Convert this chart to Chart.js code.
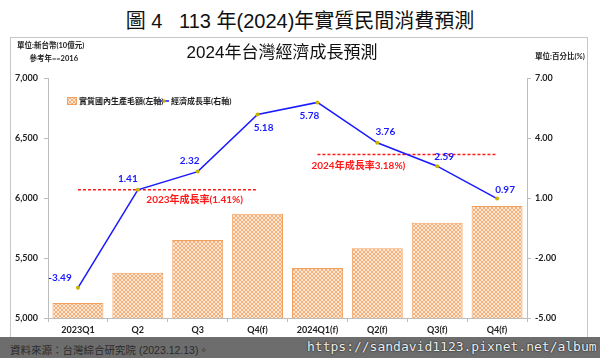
<!DOCTYPE html>
<html>
<head>
<meta charset="utf-8">
<script src="https://cdn.jsdelivr.net/npm/chart.js@4"></script>
<style>
  html, body { margin: 0; padding: 0; background: #fff; }
  #wrap { position: relative; width: 600px; height: 358px; overflow: hidden; }
  #pageTitle { position: absolute; left: 0; top: 5px; width: 600px; text-align: center;
    font: 20px "Liberation Sans", "Noto Sans CJK TC", sans-serif; color: #111; white-space: pre; }
  #panel { position: absolute; left: 10px; top: 37px; width: 578px; height: 310px;
    border: 1px solid #c8c8c8; box-sizing: border-box; }
  #strip { position: absolute; left: 0; top: 337px; width: 600px; height: 21px; background: #6d6d6d; }
  #source { position: absolute; left: 10px; top: 342px; font: 10.5px "Liberation Sans", "Noto Sans CJK TC", sans-serif; color: #2b2b2b; }
  #mark { position: absolute; left: 307px; top: 339px; font: 13px "DejaVu Sans Mono", monospace; color: #eeeeee;
    text-shadow: 0 0 2px #222, 0 0 1px #222; }
  canvas { position: absolute; left: 0; top: 0; }
</style>
</head>
<body>
<div id="wrap">
  <div id="panel"></div>
  <div id="pageTitle">圖 4   113 年(2024)年實質民間消費預測</div>
  <canvas id="gdpChart" width="600" height="358"></canvas>
  <div id="strip"></div>
  <div id="source">資料來源：台灣綜合研究院 (2023.12.13)。</div>
  <div id="mark">https://sandavid1123.pixnet.net/album</div>
</div>
<script>
//data
const quarters = ['2023Q1', 'Q2', 'Q3', 'Q4(f)', '2024Q1(f)', 'Q2(f)', 'Q3(f)', 'Q4(f)'];
const gdpValues = [5125, 5378, 5650, 5869, 5417, 5581, 5794, 5933];
const growthRates = [-3.49, 1.41, 2.32, 5.18, 5.78, 3.76, 2.59, 0.97];
const rate2023 = [1.41, 1.41, 1.41, 1.41, null, null, null, null];
const rate2024 = [null, null, null, null, 3.18, 3.18, 3.18, 3.18];
const leftTicks = [5000, 5500, 6000, 6500, 7000];
const rightTicks = [-5, -2, 1, 4, 7];

//colors
var blue = '#1a1aff';
var red = '#ff1a1a';
var orange = '#f2a05e';
var axisGrey = '#bdbdbd';
var fontStack = 'Lato, "Noto Sans CJK TC", sans-serif';

// hatch pattern for the bars
function makeHatch() {
  const c = document.createElement('canvas');
  c.width = 4; c.height = 4;
  const g = c.getContext('2d');
  g.fillStyle = '#fde6d4';
  g.fillRect(0, 0, 4, 4);
  g.fillStyle = '#f4b07a';
  for (let i = 0; i < 4; i++) {
    g.fillRect(i, i, 1, 1);
    g.fillRect(3 - i, i, 1, 1);
  }
  return g.createPattern(c, 'repeat');
}
const hatch = makeHatch();

// point label offsets [dx, dy] relative to each point
const labelOffsets = [[-18, -10], [-10, -11], [-8, -11], [6, 13], [-8, 13], [8, -11], [7, -9], [8, -9]];

const annotate = {
  id: 'annotate',
  afterDatasetsDraw(chart) {
    const ctx = chart.ctx;
    const x = chart.scales.x;
    const y1 = chart.scales.y1;
    ctx.save();
    // chart title and units
    ctx.fillStyle = '#111';
    ctx.textAlign = 'center';
    ctx.textBaseline = 'middle';
    ctx.font = '17px "Liberation Sans", "Noto Sans CJK TC", sans-serif';
    ctx.fillText('2024年台灣經濟成長預測', 282, 53);
    ctx.font = 'bold 7.5px ' + fontStack;
    ctx.fillStyle = '#222';
    ctx.textAlign = 'left';
    ctx.fillText('單位:新台幣(10億元)', 17, 46);
    ctx.textAlign = 'right';
    ctx.fillText('參考年==2016', 78, 59);
    ctx.textAlign = 'left';
    ctx.fillText('單位:百分比(%)', 535, 57);

    // legend
    ctx.fillStyle = hatch;
    ctx.fillRect(67, 97, 9, 7);
    ctx.strokeStyle = orange;
    ctx.lineWidth = 1;
    ctx.strokeRect(67.5, 97.5, 9, 7);
    ctx.fillStyle = '#222';
    ctx.font = 'bold 8px ' + fontStack;
    ctx.fillText('實質國內生產毛額(左軸)', 79, 101);
    ctx.strokeStyle = blue;
    ctx.lineWidth = 1.5;
    ctx.beginPath(); ctx.moveTo(159, 101); ctx.lineTo(169, 101); ctx.stroke();
    ctx.fillStyle = '#c9b200';
    ctx.beginPath(); ctx.arc(164, 101, 1.8, 0, Math.PI * 2); ctx.fill();
    ctx.fillStyle = '#222';
    ctx.fillText('經濟成長率(右軸)', 171, 101);

    // annual growth labels
    ctx.fillStyle = red;
    ctx.font = 'bold 10px ' + fontStack;
    ctx.textAlign = 'center';
    ctx.fillText('2023年成長率(1.41%)', x.getPixelForValue(2) - 3, y1.getPixelForValue(1.41) + 10);
    ctx.textAlign = 'left';
    ctx.fillText('2024年成長率3.18%)', x.getPixelForValue(4) - 6, y1.getPixelForValue(3.18) + 11);

    // point labels
    const meta = chart.getDatasetMeta(0);
    ctx.fillStyle = blue;
    ctx.font = 'bold 10px ' + fontStack;
    ctx.textAlign = 'center';
    meta.data.forEach(function(pt, i) {
      const off = labelOffsets[i];
      ctx.fillText(growthRates[i].toFixed(2), pt.x + off[0], pt.y + off[1]);
    });
    ctx.restore();
  }
};

new Chart(
  document.getElementById('gdpChart'), {
    data: {
      labels: quarters,
      datasets: [{
        type: 'line',
        label: '經濟成長率(右軸)',
        data: growthRates,
        yAxisID: 'y1',
        borderColor: blue,
        borderWidth: 1.5,
        pointRadius: 2,
        pointBackgroundColor: '#c9b200',
        pointBorderWidth: 0,
        order: 1
      }, {
        type: 'line',
        label: '2023',
        data: rate2023,
        yAxisID: 'y1',
        borderColor: red,
        borderWidth: 1.5,
        borderDash: [3, 2],
        pointRadius: 0,
        order: 2
      }, {
        type: 'line',
        label: '2024',
        data: rate2024,
        yAxisID: 'y1',
        borderColor: red,
        borderWidth: 1.5,
        borderDash: [3, 2],
        pointRadius: 0,
        order: 2
      }, {
        type: 'bar',
        label: '實質國內生產毛額(左軸)',
        data: gdpValues,
        yAxisID: 'y',
        backgroundColor: hatch,
        borderColor: orange,
        borderWidth: 1,
        categoryPercentage: 1,
        barPercentage: 0.85,
        order: 3
      }]
    },
    options: {
      responsive: false,
      animation: false,
      layout: { padding: { top: 78, bottom: 20, left: 0, right: 0 } },
      plugins: {
        legend: { display: false },
        tooltip: { enabled: false }
      },
      scales: {
        x: {
          offset: true,
          grid: { drawOnChartArea: false, drawTicks: true, tickLength: 4, color: axisGrey, offset: true },
          border: { color: axisGrey },
          ticks: { color: '#222', font: { family: fontStack, size: 9, weight: 'bold' }, padding: 3, maxRotation: 0 },
          afterFit(s) { s.height = 20; }
        },
        y: {
          position: 'left',
          min: 5000,
          max: 7000,
          afterBuildTicks(s) { s.ticks = leftTicks.map(v => ({ value: v })); },
          grid: { drawOnChartArea: false, drawTicks: true, tickLength: 4, color: axisGrey },
          border: { color: axisGrey },
          ticks: {
            color: '#222', padding: 6,
            font: { family: fontStack, size: 9, weight: 'bold' },
            callback: v => v.toLocaleString('en-US')
          },
          afterFit(s) { s.width = 48; }
        },
        y1: {
          position: 'right',
          min: -5,
          max: 7,
          afterBuildTicks(s) { s.ticks = rightTicks.map(v => ({ value: v })); },
          grid: { drawOnChartArea: false, drawTicks: true, tickLength: 4, color: axisGrey },
          border: { color: axisGrey },
          ticks: {
            color: '#222', padding: 4,
            font: { family: fontStack, size: 9, weight: 'bold' },
            callback: v => v.toFixed(2)
          },
          afterFit(s) { s.width = 73; }
        }
      }
    },
    plugins: [annotate]
  }
);
</script>
</body>
</html>
